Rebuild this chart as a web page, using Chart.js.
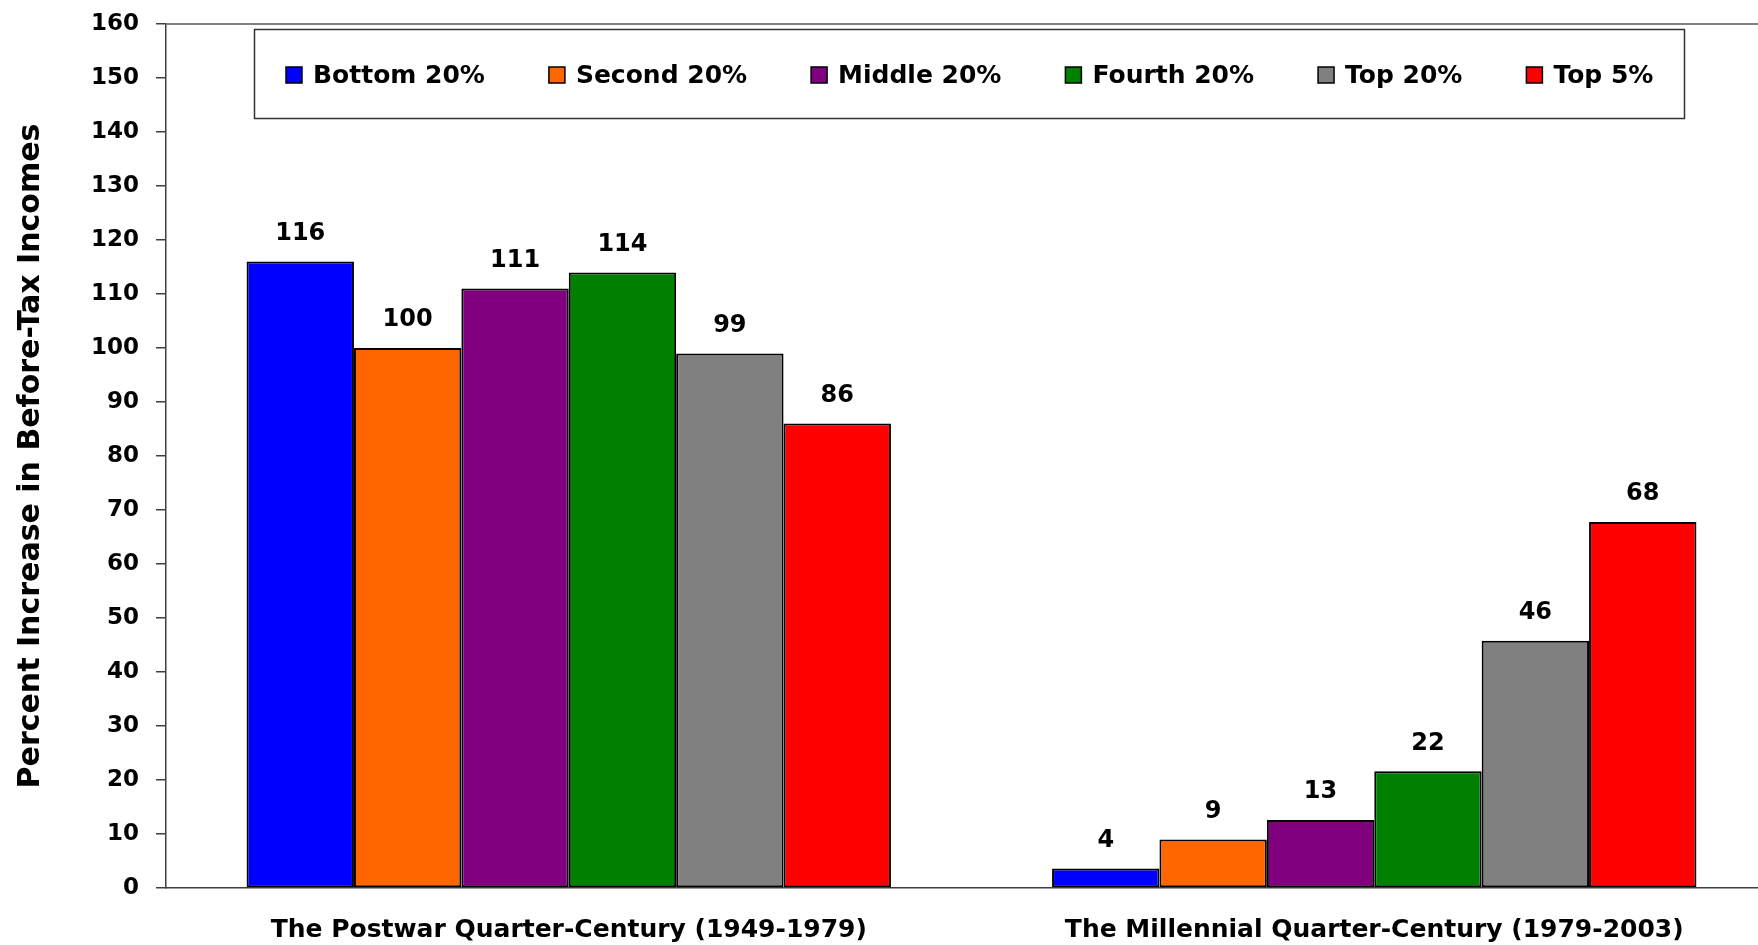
<!DOCTYPE html>
<html>
<head>
<meta charset="utf-8">
<script src="https://cdn.jsdelivr.net/npm/chart.js@4.4.0/dist/chart.umd.min.js"></script>
<style>
html,body{margin:0;padding:0;background:#fff;overflow:hidden;}
#wrap{width:1777px;height:945px;position:relative;}
</style>
</head>
<body>
<div id="wrap"><canvas id="myChart"></canvas></div>
<script>
// datos
let Periodos=['The Postwar Quarter-Century (1949-1979)','The Millennial Quarter-Century (1979-2003)'];
let Grupos=['Bottom 20%','Second 20%','Middle 20%','Fourth 20%','Top 20%','Top 5%'];
let Colores=['#0000FF','#FF6600','#800080','#008000','#808080','#FF0000'];
let InfoBottom=[116,3.6];
let InfoSecond=[100,9];
let InfoMiddle=[111,12.6];
let InfoFourth=[114,21.6];
let InfoTop20=[99,45.8];
let InfoTop5=[86,67.8];
let EjeMin=0, EjeMax=160, EjePaso=10;

let Series=[InfoBottom,InfoSecond,InfoMiddle,InfoFourth,InfoTop20,InfoTop5];

Chart.defaults.font.family='"DejaVu Sans", sans-serif';
Chart.defaults.font.weight='bold';
Chart.defaults.color='#000';

// numeros encima de las barras
const etiquetas={
    id:'etiquetas',
    afterDatasetsDraw(chart){
        const ctx=chart.ctx;
        ctx.save();
        ctx.font='bold 24px "DejaVu Sans"';
        ctx.fillStyle='#000';
        ctx.textAlign='center';
        ctx.textBaseline='middle';
        chart.data.datasets.forEach((ds,i)=>{
            chart.getDatasetMeta(i).data.forEach((bar,j)=>{
                ctx.fillText(Math.round(ds.data[j]),bar.x,bar.y-28);
            });
        });
        ctx.restore();
    }
};

// linea de arriba y leyenda en caja
const marco={
    id:'marco',
    afterDraw(chart){
        const ctx=chart.ctx, a=chart.chartArea;
        ctx.save();
        ctx.strokeStyle='#808080';
        ctx.lineWidth=2;
        ctx.beginPath();
        ctx.moveTo(a.left,a.top);
        ctx.lineTo(a.right,a.top);
        ctx.stroke();

        // caja de leyenda
        ctx.fillStyle='#fff';
        ctx.fillRect(254,29,1431,90);
        ctx.strokeStyle='#333';
        ctx.lineWidth=1.5;
        ctx.strokeRect(254.5,29.5,1430,89);

        ctx.font='bold 25px "DejaVu Sans"';
        ctx.textBaseline='middle';
        ctx.textAlign='left';
        let x=286, y=75;
        chart.data.datasets.forEach(ds=>{
            ctx.fillStyle=ds.backgroundColor;
            ctx.fillRect(x,y-8,16,16);
            ctx.strokeStyle='#000';
            ctx.lineWidth=1.5;
            ctx.strokeRect(x,y-8,16,16);
            ctx.fillStyle='#000';
            ctx.fillText(ds.label,x+27,y+1);
            x+=27+ctx.measureText(ds.label).width+64;
        });
        ctx.restore();
    }
};

var ctx=document.getElementById('myChart').getContext('2d');
var chart=new Chart(ctx,{
    type:'bar',
    data:{
        labels:Periodos,
        datasets:Grupos.map((g,i)=>({
            label:g,
            data:Series[i],
            backgroundColor:Colores[i],
            borderColor:'#000',
            borderWidth:2,
            borderSkipped:false,
            categoryPercentage:0.8,
            barPercentage:1.0
        }))
    },
    options:{
        responsive:true,
        maintainAspectRatio:false,
        animation:false,
        layout:{padding:{left:13,top:0,right:0,bottom:0}},
        plugins:{
            legend:{display:false},
            tooltip:{enabled:false}
        },
        scales:{
            x:{
                grid:{display:false,drawTicks:false},
                border:{color:'#404040',width:1.5},
                ticks:{color:'#000',font:{size:25,weight:'bold'},padding:27,maxRotation:0},
                afterFit(s){ s.height=57; }
            },
            y:{
                min:EjeMin,
                max:EjeMax,
                ticks:{stepSize:EjePaso,color:'#000',font:{size:23,weight:'bold'},padding:17},
                grid:{drawOnChartArea:false,drawTicks:true,tickLength:10,color:'#404040',lineWidth:1.5},
                border:{color:'#404040',width:1.5},
                title:{display:true,text:'Percent Increase in Before-Tax Incomes',color:'#000',font:{size:30,weight:'bold'},padding:{top:0,bottom:25}},
                afterFit(s){ s.paddingTop=24; }
            }
        }
    },
    plugins:[etiquetas,marco]
});
</script>
</body>
</html>
